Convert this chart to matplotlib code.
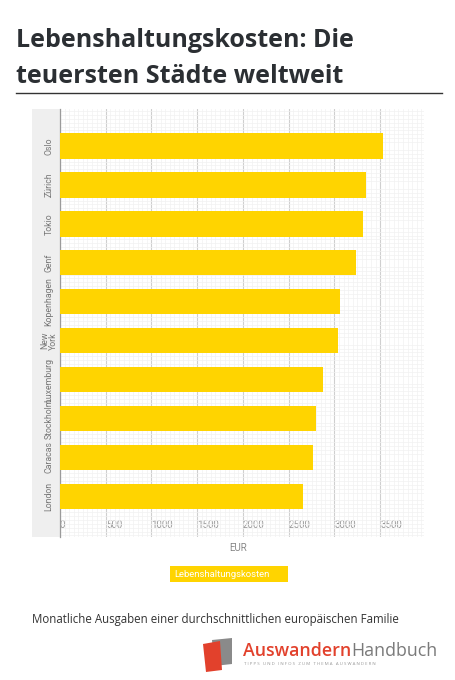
import numpy as np
import matplotlib.pyplot as plt
from matplotlib.patches import Rectangle, Polygon
from matplotlib.ticker import MultipleLocator

# Data
cities = ['Oslo', 'Zürich', 'Tokio', 'Genf', 'Kopenhagen', 'New\nYork',
          'Luxemburg', 'Stockholm', 'Caracas', 'London']
costs = [3530, 3350, 3315, 3240, 3065, 3040, 2875, 2800, 2770, 2660]
x_ticks = [0, 500, 1000, 1500, 2000, 2500, 3000, 3500]
series_name = 'Lebenshaltungskosten'

W, H = 456, 680
fig = plt.figure(figsize=(W / 100, H / 100), dpi=100)
fig.patch.set_facecolor('white')

narrow = ['Roboto', 'DejaVu Sans']
sans = ['Open Sans', 'DejaVu Sans']
yellow = '#ffd400'


def fx(px):
    return px / W


def fy(py):
    return 1 - py / H


# title + rule
fig.text(fx(16), fy(47), 'Lebenshaltungskosten: Die', fontsize=18,
         fontweight='bold', color='#2b2f33', family=sans, va='baseline')
fig.text(fx(16), fy(83), 'teuersten Städte weltweit', fontsize=18,
         fontweight='bold', color='#2b2f33', family=sans, va='baseline')
fig.add_artist(plt.Line2D([fx(16), fx(442)], [fy(93), fy(93)],
                          color='#333333', lw=1.0, transform=fig.transFigure))

# gray band behind city labels
fig.add_artist(Rectangle((fx(32), fy(537)), fx(60) - fx(32), fy(109) - fy(537),
                         transform=fig.transFigure, facecolor='#efefef',
                         edgecolor='none', zorder=0))

ax = fig.add_axes([fx(60), fy(537), fx(424) - fx(60), fy(109) - fy(537)])
ax.set_facecolor('white')

ypos = np.arange(len(cities))[::-1]
ax.barh(ypos, costs, height=0.65, color=yellow, zorder=3)

ax.set_xlim(0, 3980)
ax.set_ylim(-1.04, 9.95)

# fine background grid
ax.xaxis.set_minor_locator(MultipleLocator(50))
ax.yaxis.set_minor_locator(MultipleLocator(0.1))
ax.grid(which='minor', axis='both', color='#f1f1f1', lw=0.5, zorder=0)
ax.set_xticks(x_ticks)
ax.grid(which='major', axis='x', color='#cfcfcf', lw=0.8, zorder=1)
ax.set_axisbelow(True)

ax.set_yticks(ypos)
ax.set_yticklabels(cities, rotation=90, va='center', ha='center',
                   family=narrow, fontsize=6.3, color='#777777',
                   multialignment='center', linespacing=0.95)
ax.tick_params(axis='y', length=0, pad=8)

ax.set_xticklabels([str(t) for t in x_ticks], family=narrow, fontsize=7,
                   color='#999999', ha='left')
ax.tick_params(axis='x', which='both', length=0, pad=-12)
ax.tick_params(axis='y', which='minor', length=0)

for side in ['top', 'right', 'bottom']:
    ax.spines[side].set_visible(False)
ax.spines['left'].set_color('#9a9a9a')
ax.spines['left'].set_linewidth(0.9)

fig.text(fx(238), fy(548), 'EUR', family=narrow, fontsize=7,
         color='#888888', ha='center', va='center')

# legend chip
fig.add_artist(Rectangle((fx(170), fy(582)), fx(288) - fx(170), fy(566) - fy(582),
                         transform=fig.transFigure, facecolor=yellow,
                         edgecolor='none'))
fig.text(fx(174), fy(574.5), series_name, family=narrow, fontsize=6.8,
         color='white', ha='left', va='center')

# subtitle
fig.text(fx(32), fy(619), 'Monatliche Ausgaben einer durchschnittlichen europäischen Familie',
         family=sans, fontsize=8.3, color='#333333', ha='left', va='center')

# logo
fig.add_artist(Polygon([(fx(212), fy(640)), (fx(232), fy(638)), (fx(232), fy(664)),
                        (fx(214), fy(666))], closed=True, transform=fig.transFigure,
                       facecolor='#8a8a8a', edgecolor='none'))
fig.add_artist(Polygon([(fx(203), fy(644)), (fx(220), fy(641)), (fx(222), fy(670)),
                        (fx(206), fy(672))], closed=True, transform=fig.transFigure,
                       facecolor='#e2412c', edgecolor='none'))
t1 = fig.text(fx(243), fy(651), 'Auswandern', family=sans, fontsize=12.8,
              fontweight='semibold', color='#e2412c', ha='left', va='center')
fig.canvas.draw()
bb = t1.get_window_extent()
fig.text(bb.x1 / W, fy(651), 'Handbuch', family=sans, fontsize=12.8,
         color='#7a7a7a', ha='left', va='center')
fig.text(fx(244), fy(664), 'T I P P S   U N D   I N F O S   Z U M   T H E M A   A U S W A N D E R N',
         family=sans, fontsize=3.2, color='#999999', ha='left', va='center')

fig.savefig('out.png', dpi=100)
